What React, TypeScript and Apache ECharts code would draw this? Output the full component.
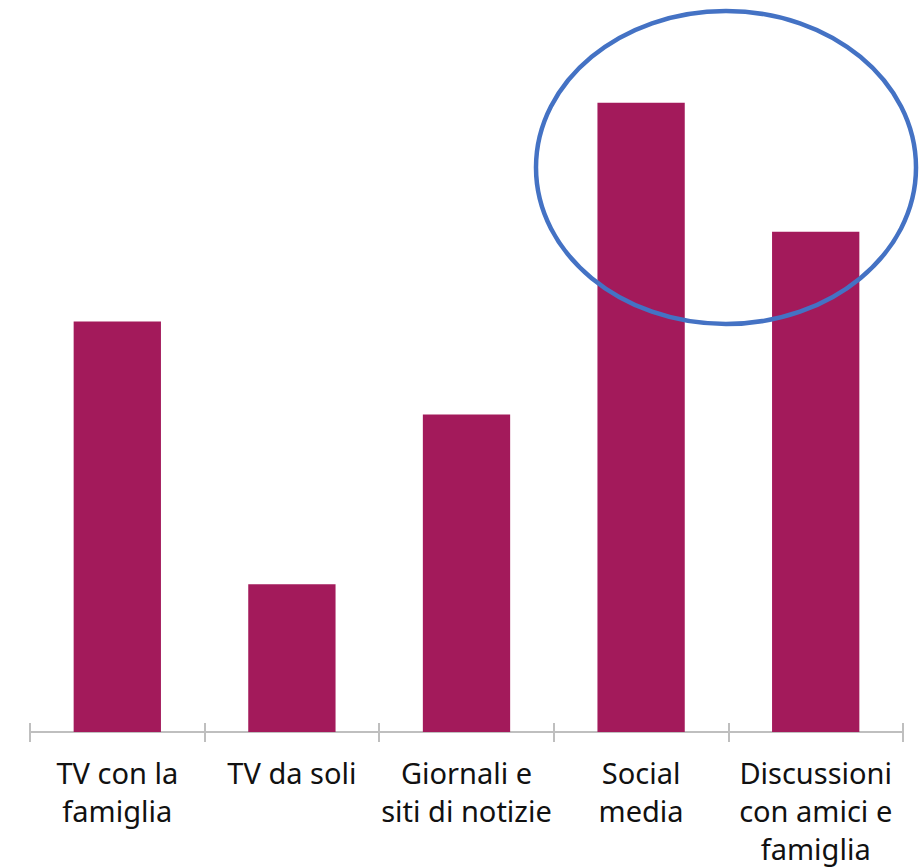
import React, { useEffect, useRef } from "react";
import * as echarts from "echarts";

const categories = [
  "TV con la\nfamiglia",
  "TV da soli",
  "Giornali e\nsiti di notizie",
  "Social\nmedia",
  "Discussioni\ncon amici e\nfamiglia",
];
const values = [41.1, 14.8, 31.8, 63.0, 50.1];

export default function App() {
  const ref = useRef<HTMLDivElement>(null);
  useEffect(() => {
    if (!ref.current) return;
    const chart = echarts.init(ref.current, null, { renderer: "svg" });
    chart.setOption({
      animation: false,
      grid: { left: 30, right: 19, top: 0, bottom: 134 },
      xAxis: [
        {
          type: "category",
          data: categories,
          axisLine: { show: true, lineStyle: { color: "#BFBFBF", width: 2 } },
          axisTick: { show: true, length: 10, lineStyle: { color: "#BFBFBF", width: 2 } },
          axisLabel: {
            color: "#111111",
            fontSize: 29,
            lineHeight: 38,
            margin: 21,
            fontFamily: "Noto Sans",
            interval: 0,
            overflow: "none",
          },
        },
        {
          type: "category",
          data: categories,
          position: "bottom",
          axisLine: { show: false },
          axisTick: { show: true, inside: true, length: 9, lineStyle: { color: "#BFBFBF", width: 2 } },
          axisLabel: { show: false },
        },
      ],
      yAxis: {
        type: "value",
        min: 0,
        max: 73.3,
        show: false,
      },
      series: [
        {
          type: "bar",
          data: values,
          barWidth: "50%",
          itemStyle: { color: "#A31A5B" },
        },
      ],
      graphic: [
        {
          type: "ellipse",
          shape: { cx: 726, cy: 167.5, rx: 190, ry: 156.5 },
          style: { fill: "none", stroke: "#4472C4", lineWidth: 4.5 },
          z: 100,
        },
      ],
    });
    return () => chart.dispose();
  }, []);
  return (
    <div
      ref={ref}
      style={{ position: "fixed", left: 0, top: 0, width: 922, height: 867, background: "#fff" }}
    />
  );
}
